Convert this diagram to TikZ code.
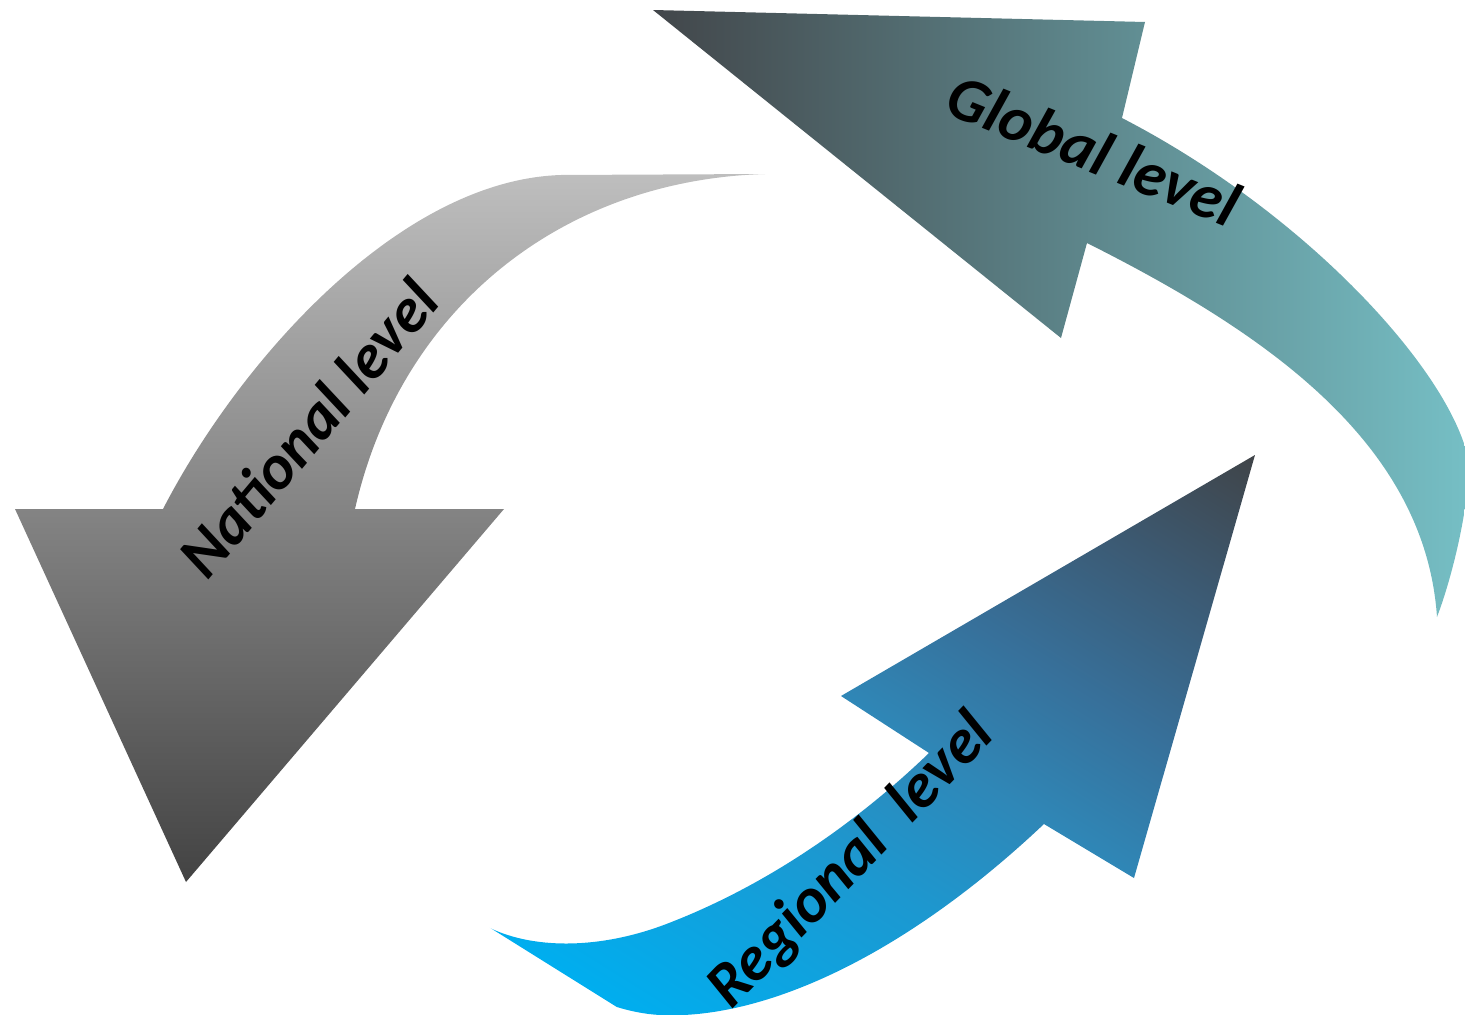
\documentclass[tikz,border=0pt]{standalone}
\usepackage{fontspec}
\newfontfamily\lblfont{Carlito}[UprightFont={* Bold Italic}]
\definecolor{natTop}{RGB}{190,190,190}
\definecolor{natMid}{RGB}{149,149,149}
\definecolor{natBot}{RGB}{67,67,67}
\definecolor{globDark}{RGB}{66,70,74}
\definecolor{globLight}{RGB}{118,192,198}
\definecolor{regLight}{RGB}{0,174,239}
\definecolor{regA}{RGB}{28,152,208}
\definecolor{regMid}{RGB}{47,135,183}
\definecolor{regB}{RGB}{55,112,154}
\definecolor{regC}{RGB}{60,90,115}
\definecolor{regDark}{RGB}{64,68,72}
\pgfdeclareverticalshading{regshade}{100bp}{color(0bp)=(regLight); color(25bp)=(regLight);
    color(40bp)=(regA); color(48.75bp)=(regMid); color(57bp)=(regB); color(66bp)=(regC);
    color(75bp)=(regDark); color(100bp)=(regDark)}
\tikzset{lbl/.style={font=\lblfont\fontsize{18}{22}\selectfont, inner sep=0pt}}

\begin{document}
\begin{tikzpicture}[x=0.01cm,y=-0.01cm]
    \useasboundingbox (0,0) rectangle (1465,1015);

    \shade[top color=natTop, middle color=natMid, bottom color=natBot] (15,509) -- (186,882) -- (504,509) -- (355,509)
        .. controls (400,310) and (560,180) .. (765,174) -- (561,175)
        .. controls (400,180) and (240,360) .. (163,509) -- cycle;

    \shade[left color=globDark, right color=globLight] (653,10) -- (1145,22) -- (1122,118)
        .. controls (1300,210) and (1440,360) .. (1466,450)
        .. controls (1475,481) and (1455,570) .. (1437,617)
        .. controls (1425,440) and (1260,330) .. (1087,243) -- (1061,338) -- cycle;

    \begin{scope}
    \clip (1255,455) -- (1134,878) -- (1044,824)
        .. controls (900,960) and (760,1020) .. (660,1015)
        .. controls (600,1012) and (530,970) .. (484,925)
        .. controls (530,950) and (600,950) .. (669,923)
        .. controls (780,880) and (870,810) .. (929,753) -- (841,696) -- cycle;
    \shade[transform canvas={shift={(870,690)}, rotate=-32}, shading=regshade]
        (-700,-403) rectangle (700,403);
    \end{scope}

    \node[lbl, rotate=50] (NL) at (308,428) {National level};
    \node[lbl, rotate=-22] (GL) at (1094,150) {Global level};
    \node[lbl, rotate=46] (RL) at (852,862) {Regional\ \ level};
\end{tikzpicture}
\end{document}
